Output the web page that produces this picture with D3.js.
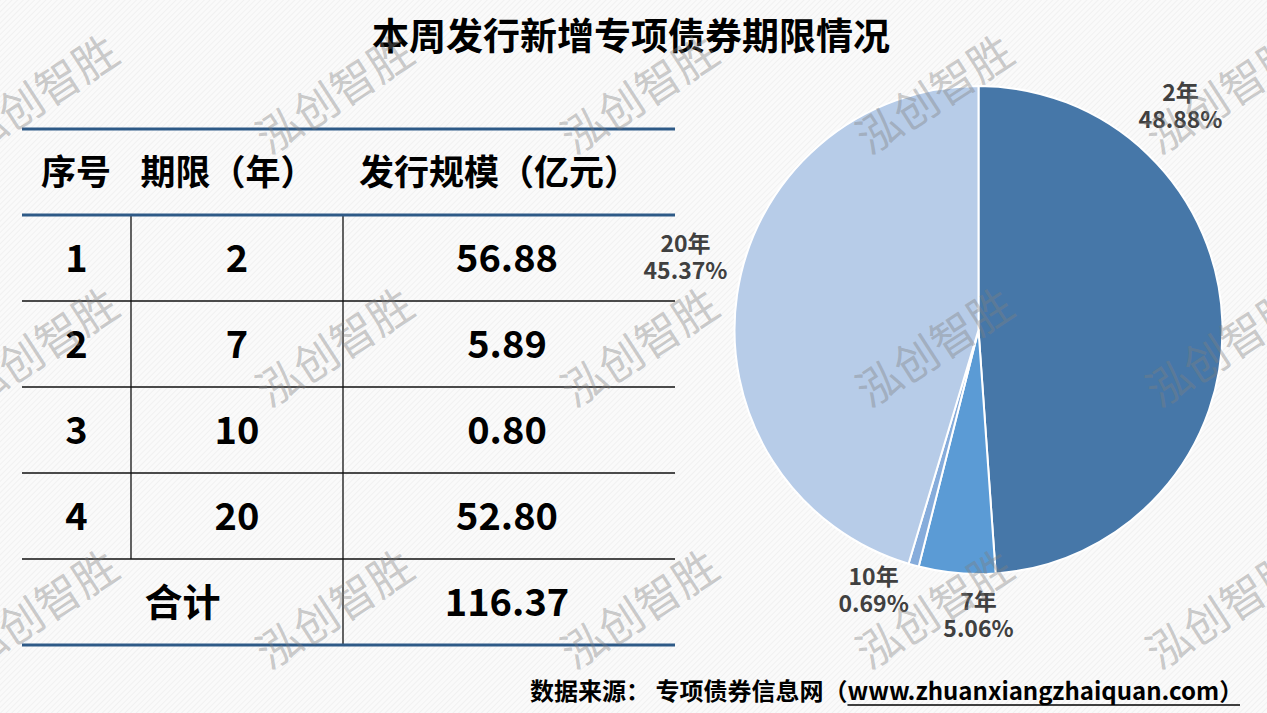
<!DOCTYPE html>
<html>
<head>
<meta charset="utf-8">
<script src="https://cdn.jsdelivr.net/npm/d3@7"></script>
<style>
  html, body { margin: 0; padding: 0; background: #fafafa; }
  svg { display: block; font-family: "Noto Sans CJK SC", "Noto Sans", sans-serif; }
</style>
</head>
<body>
<svg id="chart" width="1267" height="713"></svg>
<script>
// ---- data ----
const seqNos = ["1", "2", "3", "4"];
const terms = ["2", "7", "10", "20"];
const amounts = [56.88, 5.89, 0.80, 52.80];
const sliceNames = ["2年", "7年", "10年", "20年"];
const headers = ["序号", "期限（年）", "发行规模（亿元）"];
const totalLabel = "合计";
const titleText = "本周发行新增专项债券期限情况";
const sourceText = "数据来源： 专项债券信息网（";
const sourceUrl = "www.zhuanxiangzhaiquan.com";
const watermarkText = "泓创智胜";

// ---- style / layout ----
const W = 1267, H = 713;
const sliceColors = ["#4677A8", "#5B9BD5", "#86ACDB", "#B7CCE8"];
const lineBlue = "#2E5A87";
const svg = d3.select("#chart");

// background pattern
const defs = svg.append("defs");
const pat = defs.append("pattern").attr("id", "hatch").attr("patternUnits", "userSpaceOnUse")
  .attr("width", 4).attr("height", 4).attr("patternTransform", "rotate(45)");
pat.append("rect").attr("width", 4).attr("height", 4).attr("fill", "#fafafa");
pat.append("line").attr("x1", 0).attr("y1", 0).attr("x2", 0).attr("y2", 4)
  .attr("stroke", "#efefef").attr("stroke-width", 1.5);
svg.append("rect").attr("width", W).attr("height", H).attr("fill", "url(#hatch)");

// title
svg.append("text").attr("x", 631).attr("y", 50).attr("text-anchor", "middle")
  .attr("font-size", 37).attr("font-weight", 700).attr("fill", "#000").text(titleText);

// ---- table ----
const tx0 = 22, tx1 = 675;
const colX = [tx0, 131, 343, tx1];
const headerTop = 129, headerBottom = 215, rowH = 86;
const rowY = d3.scaleLinear().domain([0, 1]).range([headerBottom, headerBottom + rowH]);
const nRows = amounts.length;
const tableBottom = rowY(nRows + 1);

const tbl = svg.append("g");
d3.range(1, nRows + 1).forEach(i => {
  tbl.append("line").attr("x1", tx0).attr("x2", tx1).attr("y1", rowY(i)).attr("y2", rowY(i))
    .attr("stroke", "#111").attr("stroke-width", 1.3);
});
tbl.append("line").attr("x1", colX[1]).attr("x2", colX[1]).attr("y1", headerBottom).attr("y2", rowY(nRows))
  .attr("stroke", "#111").attr("stroke-width", 1.3);
tbl.append("line").attr("x1", colX[2]).attr("x2", colX[2]).attr("y1", headerBottom).attr("y2", tableBottom)
  .attr("stroke", "#111").attr("stroke-width", 1.3);
[headerTop, headerBottom, tableBottom].forEach(y => {
  tbl.append("line").attr("x1", tx0).attr("x2", tx1).attr("y1", y).attr("y2", y)
    .attr("stroke", lineBlue).attr("stroke-width", 3);
});

// header texts
const headerX = [76, 228, 499];
headers.forEach((h, i) => {
  tbl.append("text").attr("x", headerX[i]).attr("y", (headerTop + headerBottom) / 2)
    .attr("dy", "0.36em").attr("text-anchor", "middle").attr("font-size", 35).attr("font-weight", 700)
    .attr("fill", "#000").text(h);
});

const cellFont = 38;
const colCenters = [ (colX[0] + colX[1]) / 2, (colX[1] + colX[2]) / 2, (colX[2] + colX[3]) / 2 ];
amounts.forEach((v, i) => {
  const cy = rowY(i + 0.5);
  const vals = [seqNos[i], terms[i], d3.format(".2f")(v)];
  vals.forEach((t, j) => {
    tbl.append("text").attr("x", colCenters[j] - (j === 2 ? 2 : 0)).attr("y", cy).attr("dy", "0.36em")
      .attr("text-anchor", "middle").attr("font-size", cellFont).attr("font-weight", 700)
      .attr("fill", "#000").text(t);
  });
});
const total = d3.sum(amounts);
const tcy = rowY(nRows + 0.5);
tbl.append("text").attr("x", (colX[0] + colX[2]) / 2).attr("y", tcy).attr("dy", "0.36em")
  .attr("text-anchor", "middle").attr("font-size", cellFont).attr("font-weight", 700).text(totalLabel);
tbl.append("text").attr("x", colCenters[2] - 2).attr("y", tcy).attr("dy", "0.36em")
  .attr("text-anchor", "middle").attr("font-size", cellFont).attr("font-weight", 700)
  .text(d3.format(".2f")(total));

// ---- pie ----
const cx = 978.5, cy = 330, R = 244;
const pie = d3.pie().sort(null).value(d => d)(amounts);
const arc = d3.arc().innerRadius(0).outerRadius(R);
const pg = svg.append("g").attr("transform", `translate(${cx},${cy})`);
pg.selectAll("path").data(pie).join("path")
  .attr("d", arc).attr("fill", (d, i) => sliceColors[i])
  .attr("stroke", "#fff").attr("stroke-width", 2).attr("stroke-linejoin", "round");

// labels placed at angle/radius around the pie (PowerPoint "best fit" style)
const labelAngleDeg = [42, 180, 202, 284];
const labelRadius = [302, 285, 280, 302];
const pct = d3.format(".2%");
pie.forEach((d, i) => {
  const a = labelAngleDeg[i] * Math.PI / 180;
  const lx = Math.sin(a) * labelRadius[i];
  const ly = -Math.cos(a) * labelRadius[i];
  pg.append("text").attr("x", lx).attr("y", ly - 13).attr("dy", "0.36em")
    .attr("text-anchor", "middle").attr("font-size", 23).attr("font-weight", 700)
    .attr("fill", "#404040").text(sliceNames[i]);
  pg.append("text").attr("x", lx).attr("y", ly + 14).attr("dy", "0.36em")
    .attr("text-anchor", "middle").attr("font-size", 23).attr("font-weight", 700)
    .attr("fill", "#404040").text(pct(d.value / total));
});

// ---- source ----
const src = svg.append("text").attr("x", 530).attr("y", 700).attr("font-size", 24)
  .attr("font-weight", 700).attr("fill", "#000");
src.append("tspan").text(sourceText);
src.append("tspan").text(sourceUrl);
src.append("tspan").text("）");
const urlStart = 530 + src.node().getSubStringLength(0, sourceText.length);
svg.append("line").attr("x1", urlStart).attr("x2", 1240).attr("y1", 705).attr("y2", 705)
  .attr("stroke", "#000").attr("stroke-width", 1.5);

// ---- watermarks ----
const wmX = [40, 335, 640, 935, 1225];
const wmY = [95, 348, 610];
const wm = svg.append("g").attr("pointer-events", "none");
wmY.forEach(y => wmX.forEach(x => {
  wm.append("text").attr("transform", `translate(${x},${y}) rotate(-33)`)
    .attr("text-anchor", "middle").attr("dy", "0.35em").attr("font-size", 44)
    .attr("fill", "#7f7f7f").attr("fill-opacity", 0.4).text(watermarkText);
}));
</script>
</body>
</html>
